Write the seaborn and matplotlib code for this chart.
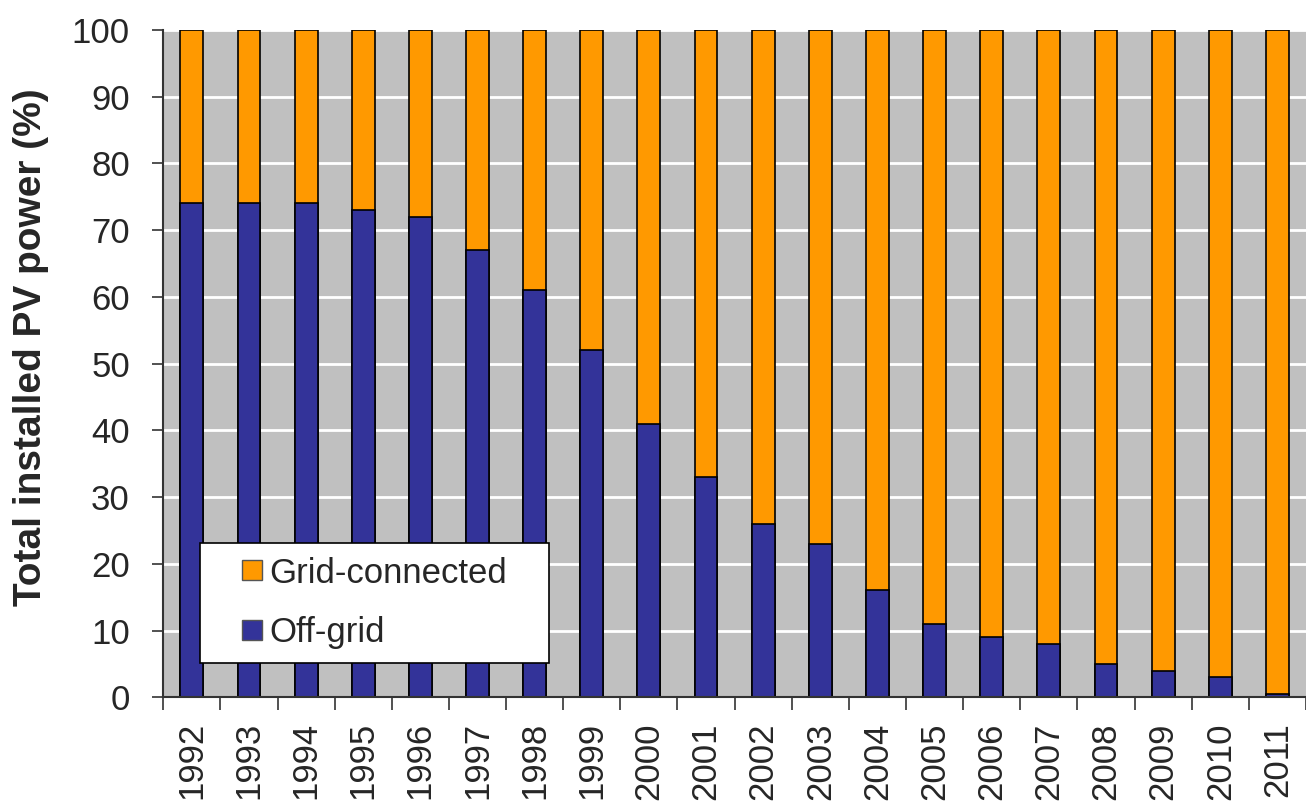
import matplotlib
matplotlib.use("Agg")
import matplotlib.pyplot as plt
import seaborn as sns
import pandas as pd
from matplotlib.lines import Line2D
from matplotlib.ticker import FixedLocator

years = [str(y) for y in range(1992, 2012)]
off_grid = [74, 74, 74, 73, 72, 67, 61, 52, 41, 33, 26, 23, 16, 11, 9, 8, 5, 4, 3, 0.5]
total = [100] * len(years)

df = pd.DataFrame({"year": years, "off_grid": off_grid, "total": total})

sns.set_style("white")
plt.rcParams["font.family"] = ["Liberation Sans", "DejaVu Sans"]

blue = "#333399"
orange = "#FF9900"

fig = plt.figure(figsize=(13.06, 8.07), dpi=100)
ax = fig.add_axes([0.125, 0.136, 0.875, 0.827])
ax.set_facecolor("#C0C0C0")

# Full-height orange bars underneath, off-grid share stacked from zero on top
sns.barplot(data=df, x="year", y="total", color=orange, width=0.4,
            edgecolor="black", linewidth=1.2, ax=ax, saturation=1)
sns.barplot(data=df, x="year", y="off_grid", color=blue, width=0.4,
            edgecolor="black", linewidth=1.2, ax=ax, saturation=1)

ax.set_xlim(-0.5, 19.5)
ax.set_ylim(0, 100)
ax.set_yticks(range(0, 101, 10))
ax.yaxis.grid(True, color="white", linewidth=2)
ax.set_axisbelow(True)

ax.set_xlabel("")
ax.set_ylabel("Total installed PV power (%)", fontsize=28, fontweight="bold")
ax.yaxis.set_label_coords(-0.100, 0.525)
ax.tick_params(axis="y", labelsize=25, direction="out", length=8, width=1.2,
               color="#333333", left=True, pad=16)
ax.tick_params(axis="x", which="major", labelsize=25, rotation=90, length=0, pad=18)
ax.xaxis.set_minor_locator(FixedLocator([i - 0.5 for i in range(len(years) + 1)]))
ax.tick_params(axis="x", which="minor", direction="out", length=9, width=1.2,
               color="#333333", bottom=True)

for side in ["top", "right"]:
    ax.spines[side].set_visible(False)
for side in ["left", "bottom"]:
    ax.spines[side].set_color("#333333")
    ax.spines[side].set_linewidth(1.5)

handles = [Line2D([], [], linestyle="none", marker="s", markersize=15,
                  markerfacecolor=orange, markeredgecolor="#555555", label="Grid-connected"),
           Line2D([], [], linestyle="none", marker="s", markersize=15,
                  markerfacecolor=blue, markeredgecolor="#555555", label="Off-grid")]
leg = ax.legend(handles=handles, loc="lower left", bbox_to_anchor=(0.032, 0.052, 0.306, 0.174),
                mode="expand", fontsize=25, frameon=True, fancybox=False,
                handlelength=2.2, handletextpad=-0.6,
                labelspacing=0.75, borderpad=0.4, borderaxespad=0)
leg.get_frame().set_edgecolor("black")
leg.get_frame().set_linewidth(1.2)
leg.get_frame().set_facecolor("white")
leg.get_frame().set_alpha(1)

fig.savefig("out.png", dpi=100)
